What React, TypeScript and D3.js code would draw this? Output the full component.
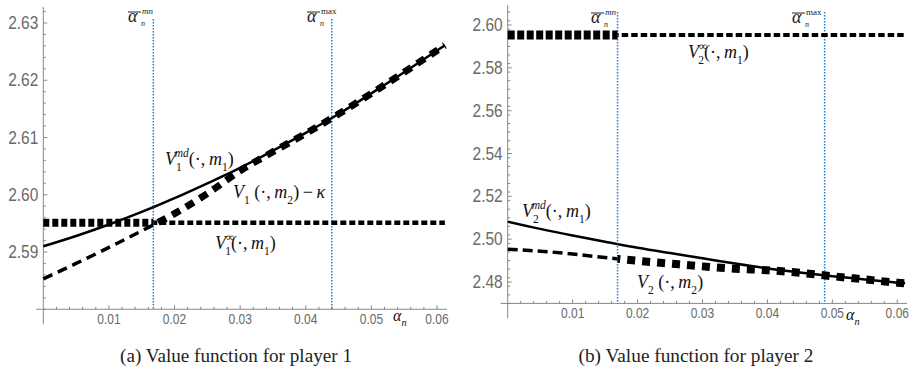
import React from 'react'
import * as d3 from 'd3'

// sampled alpha_n grid shared by every curve
const alphaGrid = [0, 0.005, 0.01, 0.015, 0.02, 0.025, 0.03, 0.035, 0.04, 0.045, 0.05, 0.055, 0.06, 0.0612]

// player 1
const v1Md = [2.591, 2.5928, 2.5948, 2.597, 2.5994, 2.602, 2.6047, 2.6077, 2.6108, 2.6141, 2.6177, 2.6214, 2.6252, 2.6261]
const v1M2Kappa = [2.5853, 2.588, 2.5908, 2.5937, 2.5967, 2.6002, 2.6042, 2.6075, 2.6107, 2.6141, 2.6177, 2.6214, 2.6252, 2.6261]
const v1Inf = [2.5951, 2.5951, 2.5951, 2.5951, 2.5951, 2.5951, 2.5951, 2.5951, 2.5951, 2.5951, 2.5951, 2.5951, 2.5951, 2.5951]
const p1AlphaBars = [0.01677, 0.04396]
const p1YTicks = [2.59, 2.6, 2.61, 2.62, 2.63]

// player 2
const v2Md = [2.5082, 2.5048, 2.5017, 2.4988, 2.496, 2.4935, 2.4911, 2.4886, 2.4863, 2.4844, 2.4827, 2.4812, 2.4797, 2.4794]
const v2M2 = [2.4953, 2.4944, 2.4931, 2.4914, 2.4899, 2.4886, 2.4873, 2.4862, 2.4855, 2.4843, 2.4827, 2.4812, 2.4797, 2.4794]
const v2Inf = [2.5953, 2.5953, 2.5953, 2.5953, 2.5953, 2.5953, 2.5953, 2.5953, 2.5953, 2.5953, 2.5953, 2.5953, 2.5953, 2.5953]
const p2AlphaBars = [0.01692, 0.04881]
const p2YTicks = [2.48, 2.5, 2.52, 2.54, 2.56, 2.58, 2.6]

const xTicks = [0.01, 0.02, 0.03, 0.04, 0.05, 0.06]

const SERIF = '"Liberation Serif", "Times New Roman", serif'
const SANS = '"Liberation Sans", Arial, sans-serif'
const GRAY = '#6a6a6a'
const BLUE = '#1f7fd6'

type Part = { t: string; it?: boolean; sub?: boolean; sup?: boolean; dx?: number }

function MathText({ x, y, parts, size = 18 }: { x: number; y: number; parts: Part[]; size?: number }) {
  let cur = 0
  return (
    <text x={x} y={y} fontFamily={SERIF} fontSize={size} fill="#111">
      {parts.map((p, i) => {
        const target = p.sub ? size * 0.34 : p.sup ? -size * 0.46 : 0
        const dy = target - cur
        cur = target
        return (
          <tspan key={i} dy={dy} dx={p.dx || 0} fontStyle={p.it ? 'italic' : 'normal'}
            fontSize={p.sub || p.sup ? size * 0.64 : size}>{p.t}</tspan>
        )
      })}
    </text>
  )
}

function AlphaBar({ x, y, sup }: { x: number; y: number; sup: string }) {
  return (
    <g fill="#222">
      <line x1={x} x2={x + 13} y1={y - 10} y2={y - 10} stroke="#222" strokeWidth={1} />
      <text x={x} y={y} fontFamily={SERIF} fontSize={18} fontStyle="italic">α</text>
      <text x={x + 13} y={y + 4} fontFamily={SERIF} fontSize={8} fontStyle="italic">n</text>
      <text x={x + 14} y={y - 8} fontFamily={SERIF} fontSize={9}
        fontStyle={sup === 'max' ? 'normal' : 'italic'}>{sup}</text>
    </g>
  )
}

type Style = { w: number; dash?: string }

type PanelProps = {
  id: string
  xRange: [number, number]
  yDomain: [number, number]
  yRange: [number, number]
  yAxisMin: number
  yAxisTop: number
  yMinorStep: number
  yTicks: number[]
  bars: number[]
  barTop: number
  series: { values: number[]; pre: Style; post: Style }[]
  children?: React.ReactNode
}

function Panel(props: PanelProps) {
  const { id, xRange, yDomain, yRange, yAxisMin, yAxisTop, yMinorStep, yTicks, bars, barTop, series } = props
  const x = d3.scaleLinear().domain([0, 0.06]).range(xRange)
  const y = d3.scaleLinear().domain(yDomain).range(yRange)
  const axisY = y(yAxisMin)
  const x0 = x(0)
  const xEnd = x(0.0615)
  const split = x(bars[0])

  const line = d3.line<number>()
    .x((_, i) => x(alphaGrid[i]))
    .y(d => y(d))
    .curve(d3.curveMonotoneX)

  const xMinor = d3.range(0.002, 0.0601, 0.002).filter(v => Math.abs(v * 100 - Math.round(v * 100)) > 1e-6)
  const yMinor = d3.range(yAxisMin, yAxisTop, yMinorStep).filter(v => !yTicks.some(t => Math.abs(t - v) < 1e-6))

  return (
    <g>
      <defs>
        <clipPath id={id + '-pre'}><rect x={0} y={0} width={split} height={377} /></clipPath>
        <clipPath id={id + '-post'}><rect x={split} y={0} width={920 - split} height={377} /></clipPath>
      </defs>

      {/* axes */}
      <line x1={x0 - 7} x2={xEnd} y1={axisY} y2={axisY} stroke="#888" strokeWidth={1} />
      <line x1={x0} x2={x0} y1={y(yAxisTop)} y2={axisY + 15} stroke="#888" strokeWidth={1} />
      {xTicks.map(t => (
        <g key={t}>
          <line x1={x(t)} x2={x(t)} y1={axisY} y2={axisY - 4} stroke="#888" />
          <text transform={`translate(${x(t)},${axisY + 15}) scale(1,1.25)`} textAnchor="middle"
            fontFamily={SANS} fontSize={12} fill={GRAY}>{d3.format('.2f')(t)}</text>
        </g>
      ))}
      {xMinor.map(t => (
        <line key={t} x1={x(t)} x2={x(t)} y1={axisY} y2={axisY - 2.5} stroke="#888" />
      ))}
      {yTicks.map(t => (
        <g key={t}>
          <line x1={x0} x2={x0 + 4} y1={y(t)} y2={y(t)} stroke="#888" />
          <text transform={`translate(${x0 - 5},${y(t) + 6}) scale(1,1.15)`} textAnchor="end"
            fontFamily={SANS} fontSize={15.5} fill={GRAY}>{d3.format('.2f')(t)}</text>
        </g>
      ))}
      {yMinor.map(t => (
        <line key={t} x1={x0} x2={x0 + 2.5} y1={y(t)} y2={y(t)} stroke="#888" />
      ))}

      {/* threshold markers */}
      {bars.map(b => (
        <line key={b} x1={x(b)} x2={x(b)} y1={barTop} y2={axisY} stroke={BLUE}
          strokeWidth={1.5} strokeDasharray="1.5 1.5" />
      ))}

      {/* curves, styled differently left and right of the first threshold */}
      {series.map((s, i) => (
        <g key={i}>
          <path d={line(s.values) || ''} fill="none" stroke="#000" strokeWidth={s.pre.w}
            strokeDasharray={s.pre.dash} clipPath={`url(#${id}-pre)`} />
          <path d={line(s.values) || ''} fill="none" stroke="#000" strokeWidth={s.post.w}
            strokeDasharray={s.post.dash} clipPath={`url(#${id}-post)`} />
        </g>
      ))}
      {props.children}
    </g>
  )
}

const TS = '\u2009'

export default function App() {
  return (
    <svg width={920} height={377} style={{ position: 'absolute', left: 0, top: 0, background: '#fff' }}>
      <Panel id="p1" xRange={[43.3, 437]} yDomain={[2.59, 2.63]} yRange={[252, 23]}
        yAxisMin={2.58} yAxisTop={2.6328} yMinorStep={0.002} yTicks={p1YTicks}
        bars={p1AlphaBars} barTop={19}
        series={[
          { values: v1Inf, pre: { w: 8, dash: '6 3' }, post: { w: 4.5, dash: '6 3' } },
          { values: v1Md, pre: { w: 2.5 }, post: { w: 2.5 } },
          { values: v1M2Kappa, pre: { w: 3.5, dash: '10 6' }, post: { w: 7, dash: '9 7' } },
        ]}>
        <AlphaBar x={128} y={22} sup="mn" />
        <AlphaBar x={307} y={22} sup="max" />
        <MathText x={165} y={165} parts={[
          { t: 'V', it: true }, { t: '1', sub: true }, { t: 'md', sup: true, it: true, dx: -7 },
          { t: '(·,' + TS }, { t: 'm', it: true }, { t: '1', sub: true }, { t: ')' },
        ]} />
        <MathText x={233} y={198} parts={[
          { t: 'V', it: true }, { t: '1', sub: true }, { t: ' (·,' + TS }, { t: 'm', it: true },
          { t: '2', sub: true }, { t: ')' + TS + '−' + TS }, { t: 'κ', it: true },
        ]} />
        <MathText x={215} y={249} parts={[
          { t: 'V', it: true }, { t: '∞', sup: true }, { t: '1', sub: true, dx: -9 },
          { t: '(·,' + TS }, { t: 'm', it: true }, { t: '1', sub: true }, { t: ')' },
        ]} />
        <MathText x={393} y={321} size={16} parts={[{ t: 'α', it: true }, { t: 'n', it: true, sub: true }]} />
      </Panel>

      <Panel id="p2" xRange={[507.7, 897.3]} yDomain={[2.48, 2.6]} yRange={[282, 25]}
        yAxisMin={2.47} yAxisTop={2.6093} yMinorStep={0.004} yTicks={p2YTicks}
        bars={p2AlphaBars} barTop={12}
        series={[
          { values: v2Inf, pre: { w: 9, dash: '7 2.5' }, post: { w: 4, dash: '6.5 3' } },
          { values: v2Md, pre: { w: 2.5 }, post: { w: 2.5 } },
          { values: v2M2, pre: { w: 3.5, dash: '10 5' }, post: { w: 8, dash: '8 7' } },
        ]}>
        <AlphaBar x={591} y={23} sup="mn" />
        <AlphaBar x={792} y={23} sup="max" />
        <MathText x={688} y={58} parts={[
          { t: 'V', it: true }, { t: '∞', sup: true }, { t: '2', sub: true, dx: -9 },
          { t: '(·,' + TS }, { t: 'm', it: true }, { t: '1', sub: true }, { t: ')' },
        ]} />
        <MathText x={522} y={217} parts={[
          { t: 'V', it: true }, { t: '2', sub: true }, { t: 'md', sup: true, it: true, dx: -7 },
          { t: '(·,' + TS }, { t: 'm', it: true }, { t: '1', sub: true }, { t: ')' },
        ]} />
        <MathText x={637} y={288} parts={[
          { t: 'V', it: true }, { t: '2', sub: true }, { t: ' (·,' + TS }, { t: 'm', it: true },
          { t: '2', sub: true }, { t: ')' },
        ]} />
        <MathText x={846} y={320} size={16} parts={[{ t: 'α', it: true }, { t: 'n', it: true, sub: true }]} />
      </Panel>

      <text x={236} y={362} textAnchor="middle" fontFamily={SERIF} fontSize={18} textLength={232}
        lengthAdjust="spacingAndGlyphs" fill="#222">(a) Value function for player 1</text>
      <text x={696} y={362} textAnchor="middle" fontFamily={SERIF} fontSize={18} textLength={235}
        lengthAdjust="spacingAndGlyphs" fill="#222">(b) Value function for player 2</text>
    </svg>
  )
}
